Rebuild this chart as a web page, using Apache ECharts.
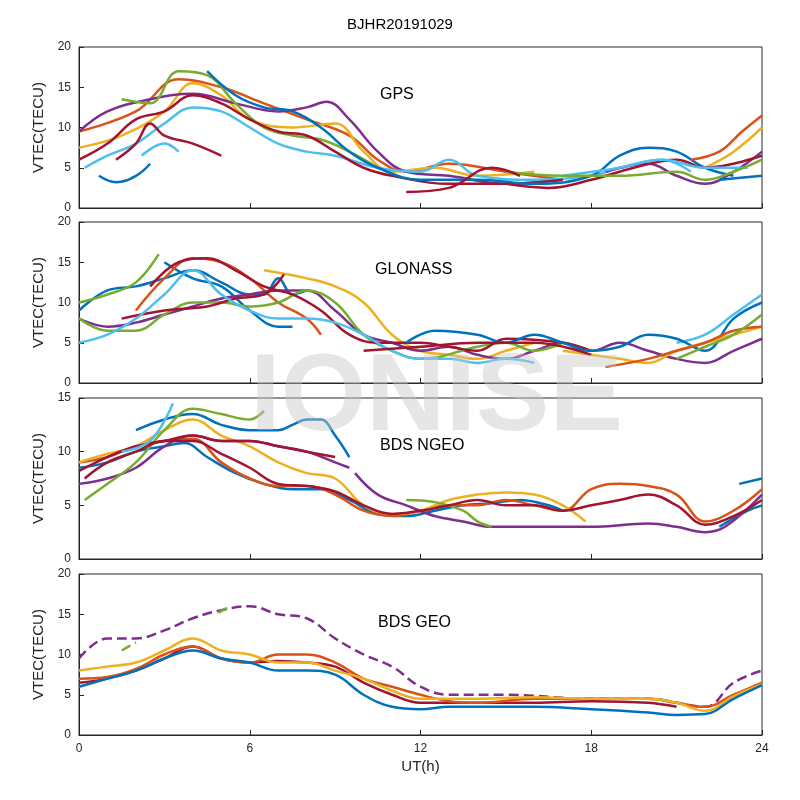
<!DOCTYPE html>
<html><head><meta charset="utf-8">
<script src="https://cdn.jsdelivr.net/npm/echarts@6/dist/echarts.min.js"></script>
<style>html,body{margin:0;background:#fff}#c{width:800px;height:800px}</style>
</head><body><div id="c"></div>
<script>
const colors = ['#0072BD','#D95319','#EDB120','#7E2F8E','#77AC30','#4DBEEE','#A2142F'];
const xTicks = [0, 6, 12, 18, 24];
const panelNames = ['GPS','GLONASS','BDS NGEO','BDS GEO'];
const panelMax = [20, 20, 15, 20];
// arcs: [colorIndex, points [UT hour, VTEC]]
const gpsArcs = [
 [1,[[0,9.5],[2,12],[3.5,16],[5,15],[6.5,13],[8,11],[9.5,9],[10.5,6],[11.5,4.5],[13,5.5],[15,4.5],[17,3.5]]],
 [2,[[0,7.5],[1.5,9],[3,12],[4,15.5],[5,14],[6,11],[7.5,10],[9,10.5],[10,7],[11,4.5],[12.5,5],[14,4],[16,4.5]]],
 [3,[[0,9.5],[1,12],[2.5,13.5],[4,14.2],[5.5,13],[7,12],[8,12.5],[8.7,13.2],[9.5,11],[10.5,7],[11.5,4.5],[13,4],[15,3],[17,3.5]]],
 [4,[[1.5,13.5],[2.5,13],[3.5,17],[4.5,16.5],[5.5,13],[6.5,10],[7.5,9],[8.5,8.5],[9.5,7],[10.5,5]]],
 [5,[[0.2,5],[1,6.5],[2,8],[3,10.5],[4,12.5],[5,12],[6,10],[7,8],[8,7],[9,6.5],[10.5,5],[12,4.5],[13,6],[14,4],[16,3.5],[18,4],[19,5],[20.5,6],[21.5,4.5]]],
 [6,[[0,6],[1,8],[2,11],[3,12],[4,14],[5,13],[6,11],[7,9.5],[8,9],[9,7],[10,5],[11,4],[13,3],[15,3],[17,3.5]]],
 [0,[[4.5,17],[5.5,14],[6.5,12.5],[7.5,12],[8.5,10],[9.5,7],[10.5,5],[12,3.5],[14,3.5],[16,3],[18,4],[19,6.5],[20,7.5],[21,7],[22,5],[23,4]]],
 [0,[[0.7,4],[1.3,3.2],[2,4],[2.5,5.5]]],
 [6,[[1.3,6],[2,8],[2.5,10.5],[3,9],[4,8],[5,6.5]]],
 [5,[[2.2,6.5],[3,8],[3.5,7]]],
 [1,[[21.5,6],[22.5,7],[23.3,9.5],[24,11.5]]],
 [2,[[22,5],[23,7],[24,10]]],
 [3,[[18.5,4.5],[20,5.5],[21,4],[22,3],[23,4.5],[24,7]]],
 [6,[[15,3],[16.5,2.5],[18,3.5],[19.5,5],[21,6],[22,5],[23,5.5],[24,6.5]]],
 [5,[[17,4],[19,5],[20.5,6],[22,5],[23.5,5]]],
 [0,[[22.5,3.5],[24,4]]],
 [4,[[15,4.5],[17,4],[19,4],[21,4.5],[22,3.5],[23,4.5],[24,6]]],
 [6,[[11.5,2],[13,2.5],[14.5,5],[15.5,4]]]
];
const glonassArcs = [
 [0,[[0,9],[1,11.5],[2,12],[3,13],[4,14],[5,12.5],[6,11],[6.5,11],[7,13],[7.5,11],[8,11.5]]],
 [0,[[3,15],[4,13],[5,12],[6,9],[7,7],[7.5,7]]],
 [1,[[2,9],[3,13],[4,15.5],[5,15],[6,13],[7,10],[8,8],[8.5,6]]],
 [2,[[6.5,14],[8,13],[9,12],[10,10],[11,6],[12,4],[13,3.5],[14,3],[15,4],[16,5]]],
 [3,[[0,8],[1,7],[2,7.5],[3,8.5],[4,9.5],[5,10.5],[6,11],[7,11.5],[8,11.5],[9,9],[10,6],[11,5],[12,4],[13,4.5],[14,3.5],[15,3],[16,4],[17,5],[18,4],[19,5],[20,4],[21,3],[22,2.5],[23,4],[24,5.5]]],
 [4,[[0,10],[1,11],[2,12.5],[2.8,16]]],
 [4,[[0,8],[1,6.5],[2,6.5],[3,8.5],[4,10],[5,10],[6,9.5],[7,10],[8,11.5],[9,10],[10,6],[11,4],[12,3],[14,4.5],[15,5],[16,4],[17,5]]],
 [6,[[1.5,8],[3,9],[4.5,9.5],[5.5,10.5],[6.5,11],[7.2,13.5]]],
 [6,[[2.5,12],[3.5,15],[4.5,15.5],[5.5,14],[6.5,12],[7.5,11],[8.5,9],[9.5,6],[10.5,5],[12,5],[13,4.5],[14,4],[15,5.5],[17,5],[18,4]]],
 [5,[[0,5],[1,6],[2,8],[3,11],[4,14],[5,11],[6,9],[7,8],[8,8],[9,7.5],[10,6],[11,4],[12,3],[13,3],[14,2.5],[15,3],[16,2.5]]],
 [5,[[21,5],[22,6],[23,8.5],[24,11]]],
 [0,[[11.5,5],[12.5,6.5],[14,6],[15,5],[16,6],[17,5],[18,4],[19,4.5],[20,6],[21,5.5],[22,4],[23,8],[24,10]]],
 [2,[[17,4],[19,3],[20,2.5],[21,4],[22,5],[23,6],[24,7]]],
 [1,[[18.5,2],[20,3],[21,4],[22,5],[23,6.5],[24,7]]],
 [4,[[21,3],[22,4.5],[23,6],[24,8.5]]],
 [6,[[10,4],[12,4.5],[14,5],[16,5],[18,3.5]]]
];
const ngeoArcs = [
 [0,[[0,8.5],[1,9],[2,10],[3,10.5],[3.7,10.8],[4.5,9.5],[5.5,8],[6.5,7],[7.5,6.5],[8.5,6.5],[9.5,5.5],[10.5,4.2],[11.5,4],[12.5,4.5],[13.5,5],[14.5,5.2],[15.5,5.5],[16.5,5],[17,4.5]]],
 [0,[[2,12],[3,13],[4,13.5],[5,12.5],[6,12],[7,12],[7.5,12.5],[8,13],[8.5,13],[9,11.5],[9.5,9.5]]],
 [0,[[22.5,3],[23.5,4.5],[24,5]]],
 [0,[[23.2,7],[24,7.5]]],
 [1,[[0,9],[1,9.5],[2,10.5],[3,11],[4,11.2],[5,9],[6,7.5],[7,6.8],[8,6.8],[9,6],[10,4.5],[11,4],[12,4.5],[13,5],[14,5],[15,5.5],[16,5],[17,4.5],[18,6.5],[19,7],[20,6.8],[21,6],[22,3.5],[23,4.5],[24,6.5]]],
 [2,[[0,9],[1,9.8],[2,10.5],[3,12],[4,13],[5,11.5],[6,10.5],[7,9],[8,8],[9,7.5],[10,5],[11,4.2],[12,4.5],[13,5.5],[14,6],[15,6.2],[16,6],[17,5],[17.8,3.5]]],
 [3,[[0,7],[1,7.5],[2,8.5],[3,10.5],[4,11.5],[5,11],[6,11],[7,10.5],[8,10],[9,9],[9.5,8.5]]],
 [3,[[9.7,8],[10.5,6],[11.5,5],[12.5,4],[13.5,3.5],[14.5,3],[16,3],[18,3],[20,3.3],[21,3],[22,2.5],[22.7,3],[24,6]]],
 [4,[[0.2,5.5],[1,7],[2,9],[3,12],[4,14],[5,13.5],[6,13],[6.5,13.8]]],
 [4,[[11.5,5.5],[12.5,5.3],[13.5,4.5],[14,3.5],[14.5,3]]],
 [6,[[0,8.2],[1,9.5],[2,10.5],[3,11],[4,11.5],[5,11],[6,11],[7,10.5],[8,10],[9,9.5]]],
 [6,[[0.2,7.5],[1,9],[2,10],[3,11],[4,11],[5,9.8],[6,8.5],[7,7],[8,6.8],[9,6.3],[10,5],[11,4.2],[12,4.5],[13,5],[14,5.5],[15,5],[16,5],[17,4.5],[18,5],[19,5.5],[20,6],[21,5],[22,3.2],[23,4],[24,5.5]]],
 [5,[[1.5,10],[2.5,11],[3.3,14.5]]]
];
const geoArcs = [
 [3,[[0,9.5],[1,12],[2,12],[3,13],[4,14.5],[5,15.5],[6,16],[7,15],[8,14.5],[9,12],[10,10],[11,8.5],[12,6],[13,5],[15,5],[18,4.5],[20,4.5],[22,3.5],[23,6.5],[24,8]],'dashed'],
 [4,[[1.5,10.5],[2,11.5]],'dashed'],
 [4,[[4.9,15.2],[5.2,15.8]],'solid'],
 [6,[[0,6.5],[1,7],[2,8],[3,9.5],[4,11],[5,9.5],[6,9],[7,9.2],[8,9],[9,8.5],[10,6.5],[11,5],[12,4],[13,4],[16,4],[18,4.2],[20,4],[21,3.5]]],
 [1,[[0,7],[1,7.2],[2,8.2],[3,10],[4,11],[5,9.5],[6,9],[7,10],[8,10],[9,9],[10,7],[11,6],[12,5],[13,4.2],[14,4],[16,4.5],[18,4.5],[20,4.5],[21,4],[22,3.5],[23,5],[24,6.5]]],
 [2,[[0,8],[1,8.5],[2,9],[3,10.5],[4,12],[5,10.5],[6,10],[7,9],[8,9],[9,8],[10,7],[11,5.5],[12,4.5],[13,4.5],[14,4.5],[16,4.7],[18,4.5],[20,4.5],[21,4],[22,3],[23,4.8],[24,6.3]]],
 [0,[[0,6],[1,7],[2,8],[3,9.5],[4,10.5],[5,9.5],[6,9],[7,8],[8,8],[9,7.5],[10,5],[11,3.5],[12,3.2],[13,3.5],[14,3.5],[16,3.5],[18,3.2],[20,2.8],[21,2.5],[22,2.6],[23,4.5],[24,6.2]]]
];
const allArcs = [gpsArcs, glonassArcs, ngeoArcs, geoArcs];
const tops = [47, 222, 398, 574];
const grids=[], xAxis=[], yAxis=[], series=[], graphic=[];
const labPos = [[420,97],[415,272],[420,448],[418,625]];
tops.forEach((t,i)=>{
  grids.push({left:79, width:683, top:t, height:161, show:true, borderColor:'#262626', borderWidth:1, backgroundColor:'#fff'});
  xAxis.push({type:'value', gridIndex:i, min:0, max:24, interval:6,
    axisLine:{lineStyle:{color:'#262626'}}, axisTick:{inside:true,length:5,lineStyle:{color:'#262626'}},
    splitLine:{show:false}, axisLabel:{show:i===3, color:'#262626', fontSize:12, fontFamily:'Helvetica, Arial, sans-serif'},
    name: i===3?'UT(h)':'', nameLocation:'middle', nameGap:24, nameTextStyle:{fontSize:15,color:'#262626'}});
  yAxis.push({type:'value', gridIndex:i, min:0, max:panelMax[i], interval:5,
    axisLine:{show:true,lineStyle:{color:'#262626'}}, axisTick:{show:true,inside:true,length:5,lineStyle:{color:'#262626'}},
    splitLine:{show:false}, axisLabel:{color:'#262626', fontSize:12},
    name:'VTEC(TECU)', nameLocation:'middle', nameGap:28, nameTextStyle:{fontSize:15,color:'#262626'}});
  allArcs[i].forEach(a=>{
    series.push({type:'line', xAxisIndex:i, yAxisIndex:i, data:a[1], smooth:0.4, showSymbol:false, silent:true,
      lineStyle:{color:colors[a[0]], width:2.5, type:a[2]||'solid'}});
  });
  graphic.push({type:'text', left:labPos[i][0]-40, top:labPos[i][1]-10, z:100, style:{text:panelNames[i], fontSize:16, fill:'#000', fontFamily:'Helvetica, Arial, sans-serif'}});
});
graphic.push({type:'text', left:250, top:345, z:200, style:{text:'IONISE', fontSize:110, fontWeight:'bold', fill:'rgba(200,200,200,0.45)', fontFamily:'Liberation Sans, Arial'}});
const chart = echarts.init(document.getElementById('c'));
chart.setOption({
  animation:false,
  title:{text:'BJHR20191029', left:'center', top:12, textStyle:{fontSize:15,fontWeight:'normal',color:'#000'}},
  grid:grids, xAxis, yAxis, series, graphic
});
</script></body></html>
